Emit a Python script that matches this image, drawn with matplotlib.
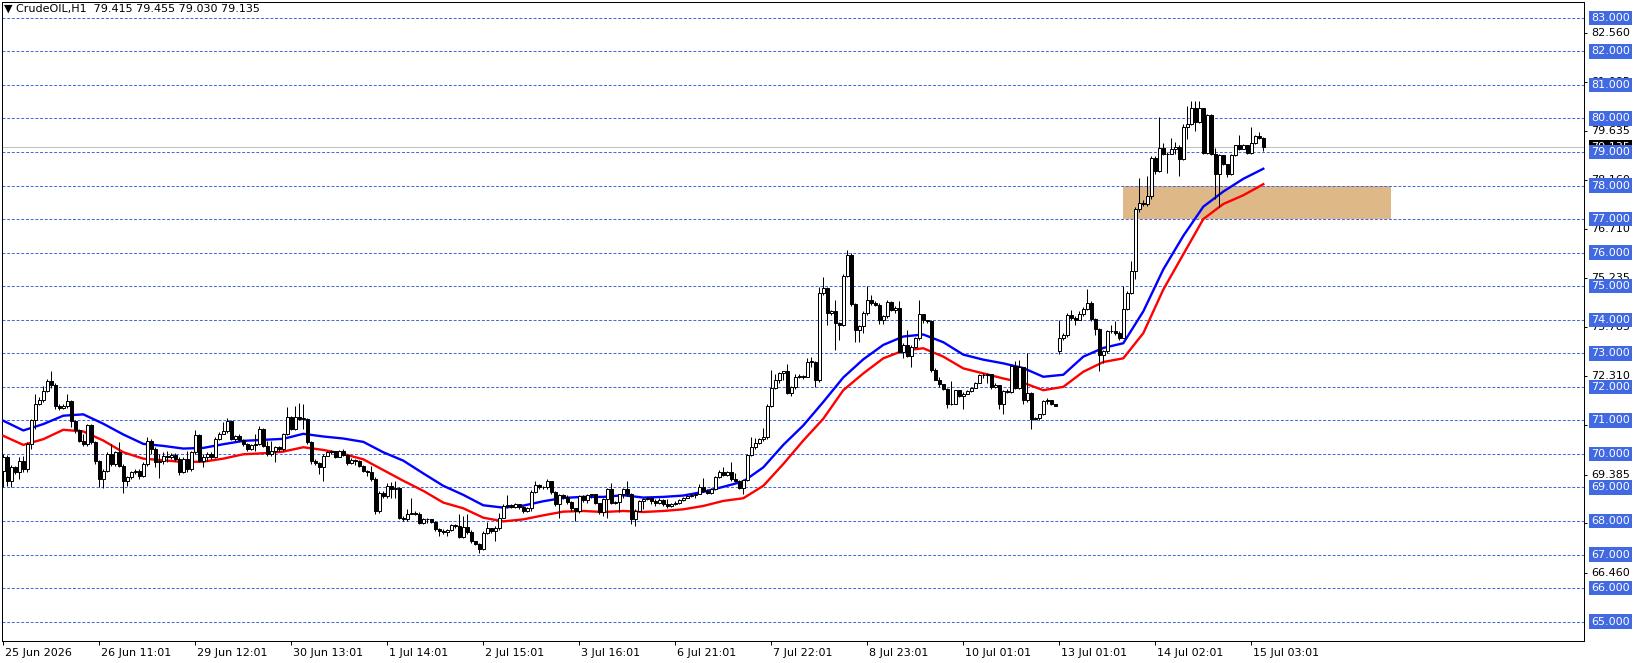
import matplotlib
matplotlib.use("Agg")
import matplotlib.pyplot as plt
from matplotlib.patches import Rectangle

# CrudeOIL H1, 25 Jun 2026 - 15 Jul 2026 (one value per bar)
first_open = 69.5
gap_opens = {264: 73.07}  # monday open after the weekend gap

closes = [69.9, 69.2, 69.62, 69.45, 69.8, 69.55, 70.3, 71.0, 71.5, 71.62,
          71.88, 72.16, 72.05, 71.43, 71.38, 71.42, 71.58, 70.99, 70.7, 70.4,
          70.3, 70.85, 70.35, 69.8, 69.25, 69.5, 70.0, 69.7, 70.05, 69.65,
          69.2, 69.3, 69.45, 69.5, 69.35, 69.7, 70.4, 70.15, 69.75, 69.8,
          69.95, 69.9, 69.98, 69.85, 69.45, 69.85, 69.55, 70.05, 70.55, 69.8,
          69.9, 70.0, 69.9, 70.45, 70.6, 70.68, 70.98, 70.45, 70.52, 70.42,
          70.3, 70.15, 70.28, 70.3, 70.75, 70.25, 70.0, 70.08, 70.2, 70.15,
          70.58, 71.1, 70.75, 71.1, 71.05, 71.05, 70.35, 69.8, 69.72, 69.6,
          69.95, 70.05, 70.1, 69.92, 70.08, 69.98, 69.72, 69.82, 69.78, 69.65,
          69.5, 69.45, 69.25, 68.3, 68.85, 68.75, 69.05, 68.95, 68.98, 68.1,
          68.05, 68.22, 68.25, 68.22, 67.95, 68.05, 68.05, 67.98, 67.75, 67.7,
          67.68, 67.72, 67.88, 67.85, 67.52, 67.82, 67.68, 67.4, 67.32, 67.18,
          67.65, 67.8, 67.7, 67.8, 68.1, 68.45, 68.48, 68.42, 68.5, 68.42,
          68.3, 68.38, 68.88, 69.08, 69.0, 69.0, 69.18, 68.88, 68.5, 68.78,
          68.72, 68.58, 68.39, 68.3, 68.75, 68.62, 68.78, 68.8, 68.53, 68.28,
          68.65, 68.95, 68.55, 68.58, 68.8, 68.95, 68.8, 68.05, 68.3, 68.6,
          68.65, 68.7, 68.6, 68.55, 68.62, 68.5, 68.45, 68.5, 68.55, 68.62,
          68.7, 68.75, 68.78, 68.82, 69.0, 68.9, 68.85, 68.95, 69.3, 69.45,
          69.38, 69.45, 69.25, 69.2, 68.98, 69.22, 69.98, 70.2, 70.33, 70.44,
          70.5, 71.44, 71.97, 72.19, 72.42, 72.46, 71.82, 72.0, 72.3, 72.32,
          72.3, 72.75, 72.75, 72.2, 74.8, 74.95, 74.2, 74.25, 73.9, 73.85,
          75.3, 75.92, 74.48, 73.68, 73.8, 74.2, 74.6, 74.5, 74.45, 74.0,
          74.1, 74.53, 74.3, 74.35, 73.05, 73.25, 72.91, 73.2, 73.45, 74.16,
          73.98, 73.96, 72.5, 72.2, 72.07, 71.93, 71.48, 71.5, 71.9, 71.73,
          71.8, 71.88, 71.98, 72.12, 72.35, 72.35, 72.37, 72.0, 72.05, 71.48,
          71.88, 71.86, 72.62, 71.98, 72.6, 71.6, 71.82, 71.03, 71.06, 71.18,
          71.58, 71.6, 71.5, 71.43, 73.45, 73.55, 74.15, 74.05, 73.98, 74.16,
          74.33, 74.49, 74.01, 73.73, 72.94, 73.07, 73.66, 73.66, 73.6, 73.47,
          74.31, 74.81, 75.45, 77.29, 77.49, 77.44, 77.69, 78.83, 78.43, 79.13,
          78.93, 78.95, 79.1, 79.15, 78.78, 79.75, 79.82, 80.32, 79.89, 80.32,
          78.98, 80.09, 78.93, 78.34, 78.9, 78.63, 78.34, 78.9, 79.2, 79.1,
          79.2, 78.96, 79.28, 79.48, 79.415, 79.135]

highs = [70.0, 69.98, 69.68, 69.65, 69.9, 69.95, 70.35, 71.05, 71.78, 71.7,
         72.03, 72.23, 72.47, 72.12, 71.5, 71.48, 71.8, 71.62, 71.02, 70.75,
         70.6, 70.9, 70.88, 70.4, 69.82, 69.55, 70.05, 70.3, 70.1, 70.35,
         69.7, 69.35, 69.5, 69.55, 69.55, 69.75, 70.5, 70.45, 70.2, 69.99,
         70.05, 70.1, 70.02, 70.02, 69.9, 69.9, 70.08, 70.1, 70.7, 70.6,
         70.0, 70.05, 70.05, 70.5, 70.65, 70.95, 71.08, 71.02, 70.55, 70.6,
         70.45, 70.32, 70.3, 70.58, 70.82, 70.78, 70.38, 70.38, 70.25, 70.25,
         70.62, 71.4, 71.12, 71.42, 71.52, 71.5, 71.08, 70.4, 69.85, 69.75,
         70.0, 70.1, 70.12, 70.1, 70.12, 70.15, 70.0, 69.88, 69.85, 69.82,
         69.68, 69.52, 69.64, 69.3, 68.9, 68.9, 69.14, 69.15, 69.2, 69.0,
         68.15, 68.35, 68.68, 68.3, 68.28, 68.1, 68.1, 68.06, 68.0, 67.78,
         67.75, 67.75, 67.9, 67.9, 68.2, 68.15, 68.2, 67.72, 67.42, 67.35,
         67.7, 67.98, 67.8, 67.85, 68.25, 68.5, 68.78, 68.52, 68.55, 68.52,
         68.45, 68.42, 68.92, 69.18, 69.1, 69.05, 69.25, 69.2, 68.9, 68.8,
         68.8, 68.78, 68.6, 68.4, 68.78, 68.78, 68.8, 68.82, 68.82, 68.55,
         68.7, 68.98, 69.12, 68.6, 68.82, 68.98, 69.18, 68.85, 68.35, 68.62,
         68.68, 68.72, 68.72, 68.65, 68.68, 68.65, 68.65, 68.55, 68.6, 68.65,
         68.72, 68.78, 68.8, 68.85, 69.1, 69.28, 68.95, 68.98, 69.33, 69.52,
         69.62, 69.48, 69.75, 69.42, 69.22, 69.25, 70.0, 70.5, 70.48, 70.48,
         70.78, 71.48, 72.49, 72.37, 72.45, 72.48, 72.69, 72.02, 72.38, 72.37,
         72.35, 72.85, 72.9, 72.78, 74.98, 75.28, 74.98, 74.3, 74.6, 73.92,
         75.35, 76.07, 75.99, 74.5, 73.85, 74.25, 75.02, 74.75, 74.55, 74.5,
         74.15, 74.58, 74.55, 74.42, 74.55, 73.3, 73.7, 73.25, 73.48, 74.6,
         74.18, 74.0, 74.0, 72.57, 72.3, 72.05, 71.96, 72.17, 71.92, 71.92,
         71.85, 71.9, 72.0, 72.15, 72.38, 72.4, 72.42, 72.38, 72.12, 72.05,
         71.92, 71.95, 72.65, 72.77, 72.79, 72.6, 73.02, 71.85, 71.1, 71.2,
         71.6, 71.66, 71.6, 71.45, 74.0, 73.6, 74.2, 74.3, 74.1, 74.26,
         74.38, 74.91, 74.56, 74.05, 73.75, 73.1, 73.7, 73.83, 73.96, 73.65,
         75.0, 74.85, 75.75, 77.35, 78.23, 77.56, 78.28, 78.88, 78.88, 80.05,
         79.28, 79.0, 79.42, 79.3, 79.2, 79.82, 80.37, 80.51, 80.51, 80.51,
         80.22, 80.12, 80.12, 79.13, 78.95, 78.92, 78.65, 78.95, 79.22, 79.52,
         79.25, 79.22, 79.75, 79.5, 79.59, 79.455]

lows = [69.0, 69.05, 69.0, 69.4, 69.25, 69.45, 69.45, 70.15, 70.75, 71.45,
        71.55, 71.85, 71.98, 71.35, 71.3, 71.33, 71.38, 70.8, 70.62, 70.35,
        70.25, 70.25, 70.3, 69.7, 69.0, 68.98, 69.45, 69.65, 69.65, 69.6,
        68.85, 69.05, 69.25, 69.4, 69.25, 69.3, 69.65, 70.0, 69.6, 69.28,
        69.7, 69.75, 69.85, 69.8, 69.38, 69.42, 69.45, 69.5, 70.0, 69.75,
        69.6, 69.78, 69.85, 69.88, 70.42, 70.6, 70.62, 70.42, 70.4, 70.38,
        70.25, 70.1, 70.12, 70.1, 70.28, 70.2, 69.95, 69.95, 69.75, 70.1,
        70.1, 70.55, 70.7, 70.72, 71.0, 70.75, 70.3, 69.7, 69.68, 69.4,
        69.2, 69.95, 70.0, 69.88, 69.9, 69.95, 69.68, 69.7, 69.68, 69.6,
        69.45, 69.35, 69.2, 68.2, 68.25, 68.7, 68.7, 68.7, 68.68, 68.05,
        68.0, 68.0, 68.2, 68.18, 67.9, 67.92, 67.95, 67.95, 67.7, 67.55,
        67.62, 67.55, 67.7, 67.8, 67.48, 67.5, 67.62, 67.35, 67.28, 67.05,
        67.15, 67.6, 67.65, 67.4, 67.72, 68.08, 68.4, 68.38, 68.4, 68.35,
        68.25, 68.28, 68.3, 68.85, 68.95, 68.95, 68.95, 68.82, 68.45, 68.1,
        68.65, 68.52, 68.29, 68.0, 68.25, 68.58, 68.55, 68.7, 68.5, 68.2,
        68.15, 68.1, 68.5, 68.5, 68.28, 68.7, 68.75, 67.9, 67.85, 68.3,
        68.35, 68.62, 68.5, 68.45, 68.5, 68.45, 68.4, 68.42, 68.48, 68.52,
        68.6, 68.68, 68.72, 68.7, 68.8, 68.88, 68.8, 68.82, 68.92, 69.28,
        69.35, 69.35, 69.2, 69.15, 68.95, 68.82, 69.2, 69.95, 70.15, 70.3,
        70.4, 70.45, 71.4, 71.95, 72.1, 72.2, 71.78, 71.74, 71.95, 72.25,
        72.22, 72.28, 72.6, 72.0, 72.15, 74.75, 73.83, 74.15, 73.1, 73.4,
        73.8, 75.28, 74.4, 73.35, 73.33, 73.6, 74.15, 74.45, 74.4, 73.88,
        73.88, 74.05, 74.25, 74.2, 73.0, 72.85, 72.88, 72.6, 73.15, 73.4,
        73.9, 73.9, 72.45, 72.2, 72.0, 71.9, 71.38, 71.45, 71.48, 71.7,
        71.33, 71.78, 71.86, 71.96, 72.1, 72.27, 72.12, 71.95, 71.98, 71.33,
        71.18, 71.82, 71.82, 71.95, 71.95, 71.5, 71.55, 70.73, 71.0, 71.0,
        71.15, 71.5, 71.45, 71.42, 72.97, 73.4, 73.5, 74.0, 73.85, 74.0,
        74.1, 74.3, 73.95, 73.54, 72.47, 72.72, 73.0, 73.6, 73.55, 73.4,
        73.45, 74.28, 74.78, 75.2, 77.2, 77.38, 77.4, 77.6, 78.35, 78.4,
        78.9, 78.36, 78.95, 78.95, 78.29, 78.75, 79.4, 79.8, 79.62, 79.87,
        78.95, 78.95, 78.9, 77.59, 77.35, 78.6, 78.24, 78.3, 78.88, 79.05,
        79.08, 78.93, 78.95, 79.25, 79.38, 79.03]

# the two moving averages, read every 5 bars
ma_bars = list(range(0, 316, 5))
ma_blue = [70.99, 70.7, 70.89, 71.14, 71.18, 70.9, 70.58, 70.3, 70.24, 70.16,
           70.18, 70.29, 70.39, 70.42, 70.45, 70.6, 70.52, 70.46, 70.36, 70.05,
           69.8, 69.42, 69.05, 68.78, 68.47, 68.4, 68.46, 68.59, 68.69, 68.72,
           68.72, 68.77, 68.7, 68.72, 68.76, 68.87, 69.02, 69.18, 69.6, 70.27,
           70.85, 71.55, 72.28, 72.82, 73.25, 73.5, 73.56, 73.33, 72.96, 72.81,
           72.7, 72.56, 72.3, 72.36, 72.9, 73.16, 73.3, 74.25, 75.5, 76.5,
           77.37, 77.82, 78.2, 78.5]
ma_red = [70.54, 70.27, 70.44, 70.72, 70.67, 70.4, 70.05, 69.86, 69.81, 69.76,
          69.77, 69.86, 69.99, 70.02, 70.07, 70.2, 70.12, 70.0, 69.84, 69.52,
          69.2, 68.9, 68.55, 68.38, 68.1, 67.99, 68.05, 68.17, 68.28, 68.3,
          68.27, 68.3, 68.27, 68.3, 68.35, 68.45, 68.6, 68.68, 69.05, 69.7,
          70.4, 71.05, 71.9, 72.4, 72.85, 73.08, 73.15, 72.9, 72.55, 72.4,
          72.25, 72.12, 71.9, 72.0, 72.45, 72.74, 72.85, 73.6, 74.9, 75.95,
          77.0, 77.45, 77.71, 78.04]

# horizontal levels, scale labels, time labels
levels = list(range(65, 84))
scale_prices = [82.560, 81.085, 79.635, 78.160, 76.710, 75.235, 73.785,
                72.310, 70.860, 69.385, 67.935, 66.460]
last_price = 79.135
zone = (280, 347, 77.0, 78.0)  # from bar, to bar, low, high
time_labels = ['25 Jun 2026', '26 Jun 11:01', '29 Jun 12:01', '30 Jun 13:01',
               '1 Jul 14:01', '2 Jul 15:01', '3 Jul 16:01', '6 Jul 21:01',
               '7 Jul 22:01', '8 Jul 23:01', '10 Jul 01:01', '13 Jul 01:01',
               '14 Jul 02:01', '15 Jul 03:01']
title = '\u25bc CrudeOIL,H1  79.415 79.455 79.030 79.135'

opens = [first_open] + closes[:-1]
for k, v in gap_opens.items():
    opens[k] = v

W, H = 1641, 663
fig = plt.figure(figsize=(W / 100, H / 100), dpi=100)
fig.patch.set_facecolor('white')
ax = fig.add_axes([2 / W, 22 / H, 1582 / W, 639 / H])
ax.set_xlim(-0.325, 395.175)
ax.set_ylim(64.425, 83.47)

px = 0.72  # one pixel in points
level_color = '#4169E1'

for p in levels:
    ax.axhline(p, color=level_color, lw=px, ls=(0, (2.9, 1.8)), zorder=1)
ax.axhline(last_price, color='#C0C0C0', lw=px, zorder=1.5)

ax.add_patch(Rectangle((zone[0], zone[2]), zone[1] - zone[0], zone[3] - zone[2],
                       facecolor='#DEB887', edgecolor='none', zorder=0.5))

ax.plot(ma_bars, ma_blue, color='#0000FF', lw=1.7, zorder=3,
        solid_joinstyle='round')
ax.plot(ma_bars, ma_red, color='#FF0000', lw=1.7, zorder=3,
        solid_joinstyle='round')

x = list(range(len(closes)))
lo = [min(l, o, c) for l, o, c in zip(lows, opens, closes)]
hi = [max(h, o, c) for h, o, c in zip(highs, opens, closes)]
ax.vlines(x, lo, hi, color='black', lw=px, zorder=4)
bottoms = [min(o, c) for o, c in zip(opens, closes)]
heights = [max(abs(c - o), 0.01) for o, c in zip(opens, closes)]
faces = ['white' if c >= o else 'black' for o, c in zip(opens, closes)]
ax.bar(x, heights, bottom=bottoms, width=0.75, color=faces,
       edgecolor='black', linewidth=px, zorder=5)

for s in ax.spines.values():
    s.set_color('black')
    s.set_linewidth(px)

tick_bars = [24 * k for k in range(len(time_labels))]
ax.set_xticks(tick_bars)
ax.set_xticklabels([])
ax.tick_params(axis='x', direction='out', length=3, width=px, color='black')
ax.yaxis.tick_right()
ax.set_yticks(scale_prices)
ax.set_yticklabels([])
ax.tick_params(axis='y', direction='out', length=2.5, width=px, color='black')

for b, lab in zip(tick_bars, time_labels):
    ax.text(b + 0.4, -0.018, lab, transform=ax.get_xaxis_transform(),
            fontsize=8, ha='left', va='center', color='black', clip_on=False)

ytr = ax.get_yaxis_transform()
lx = 1.0046
for p in scale_prices:
    ax.text(lx, p, f'{p:.3f}', transform=ytr, fontsize=8, ha='left',
            va='center', color='black', clip_on=False, zorder=6)
ax.text(lx, last_price, f'{last_price:.3f}', transform=ytr, fontsize=8,
        ha='left', va='center', color='white', clip_on=False, zorder=7,
        bbox=dict(boxstyle='square,pad=0.2', fc='black', ec='none'))
for p in levels:
    ax.text(lx, p, f'{p:.3f}', transform=ytr, fontsize=8, ha='left',
            va='center', color='white', clip_on=False, zorder=8,
            bbox=dict(boxstyle='square,pad=0.2', fc=level_color, ec='none'))

fig.text(4 / W, 1 - 9 / H, title, fontsize=8, ha='left', va='center',
         color='black')

fig.savefig('out.png', dpi=100, facecolor='white')
